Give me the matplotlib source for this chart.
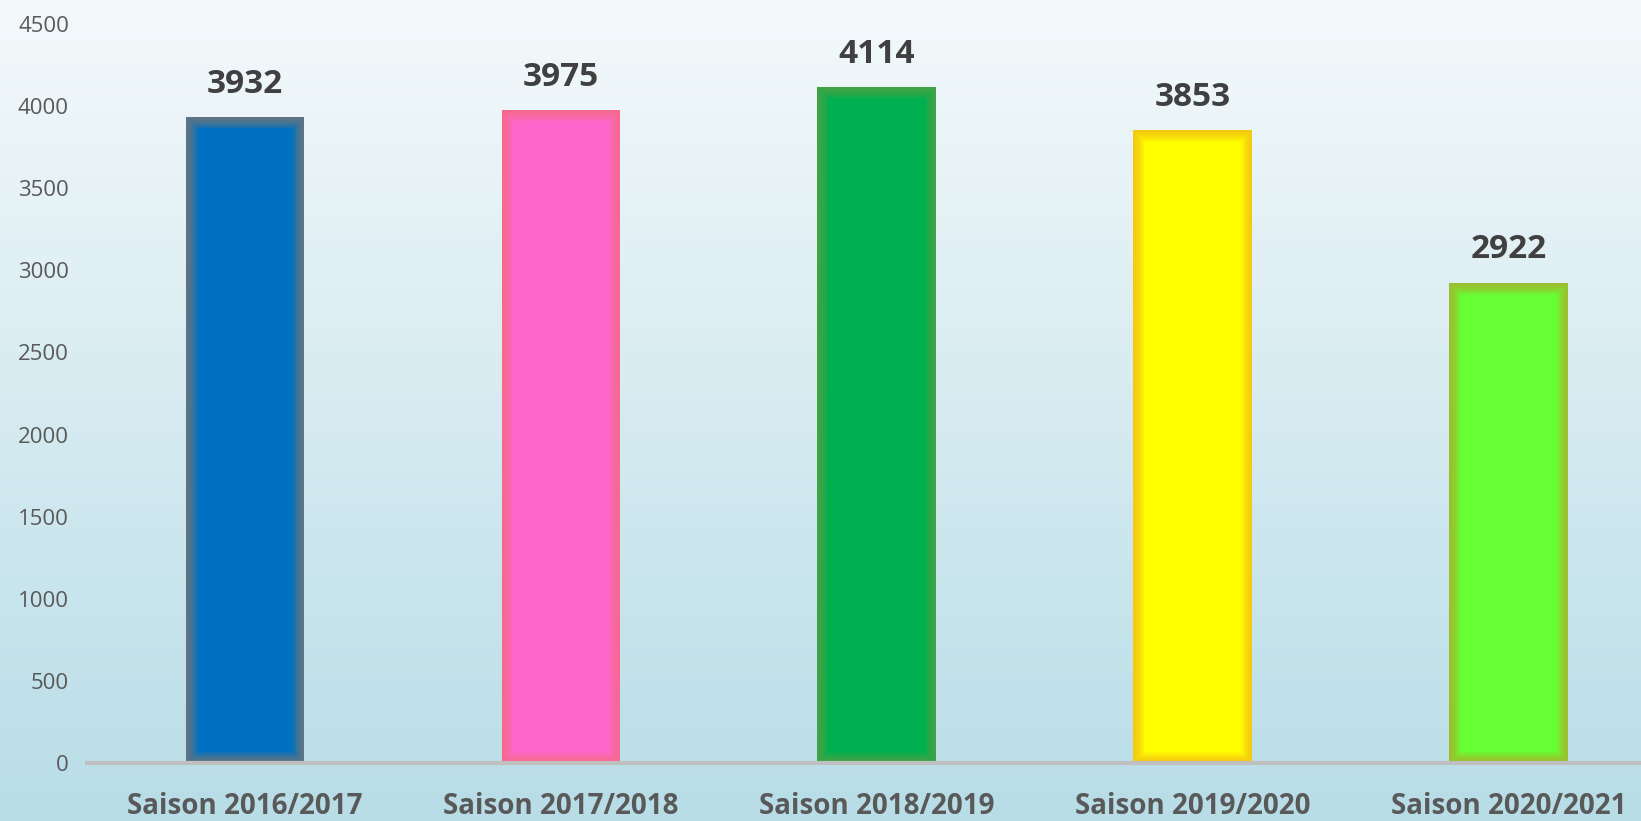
import matplotlib.pyplot as plt
import numpy as np
from matplotlib.colors import LinearSegmentedColormap

plt.rcParams['font.family'] = ['Open Sans', 'DejaVu Sans']

# données
saisons = ['Saison 2016/2017', 'Saison 2017/2018', 'Saison 2018/2019',
           'Saison 2019/2020', 'Saison 2020/2021']
valeurs = [3932, 3975, 4114, 3853, 2922]
couleurs = ['#0070C0', '#FF66CC', '#00B050', '#FFFF00', '#66FF33']
bords = ['#8C7A6B', '#F5707A', '#5FA044', '#F2B81C', '#B4A52E']

fig = plt.figure(figsize=(16.41, 8.21), dpi=100)

# fond dégradé
bg = fig.add_axes([0, 0, 1, 1], zorder=0)
grad = np.linspace(0, 1, 256).reshape(-1, 1)
cmap = LinearSegmentedColormap.from_list('fond', ['#F4F9FB', '#B8DDE7'])
bg.imshow(grad, aspect='auto', cmap=cmap, extent=[0, 1, 0, 1], origin='upper')
bg.axis('off')

ax = fig.add_axes([0.053, 0.0706, 0.947, 0.9002], zorder=1)
ax.patch.set_alpha(0)

x = np.arange(len(saisons))
largeur = 0.375
bars = ax.bar(x, valeurs, width=largeur, color=couleurs, linewidth=0, zorder=2)

# halo intérieur flou (découpé par la barre elle-même)
for rect, b in zip(bars, bords):
    for lw in range(16, 1, -2):
        halo = ax.bar(rect.get_x() + rect.get_width() / 2, rect.get_height(),
                      width=largeur, fill=False, edgecolor=b, alpha=0.14,
                      linewidth=lw, zorder=3)[0]
        halo.set_clip_path(rect)

ax.bar_label(bars, labels=[str(v) for v in valeurs], padding=12,
             fontsize=24, fontweight='bold', color='#404040')

ax.set_xlim(-0.5, 4.42)
ax.set_ylim(0, 4500)
ax.set_yticks(np.arange(0, 4501, 500))
ax.set_xticks(x)
ax.set_xticklabels(saisons, fontsize=20, fontweight='bold', color='#595959')
ax.tick_params(axis='y', labelsize=16, labelcolor='#595959', length=0, pad=13)
ax.tick_params(axis='x', length=0, pad=21)

for s in ['top', 'right', 'left']:
    ax.spines[s].set_visible(False)
ax.spines['bottom'].set_color('#BFBFBF')
ax.spines['bottom'].set_linewidth(3)
ax.spines['bottom'].set_zorder(5)

fig.savefig('out.png', dpi=100)
plt.close()
